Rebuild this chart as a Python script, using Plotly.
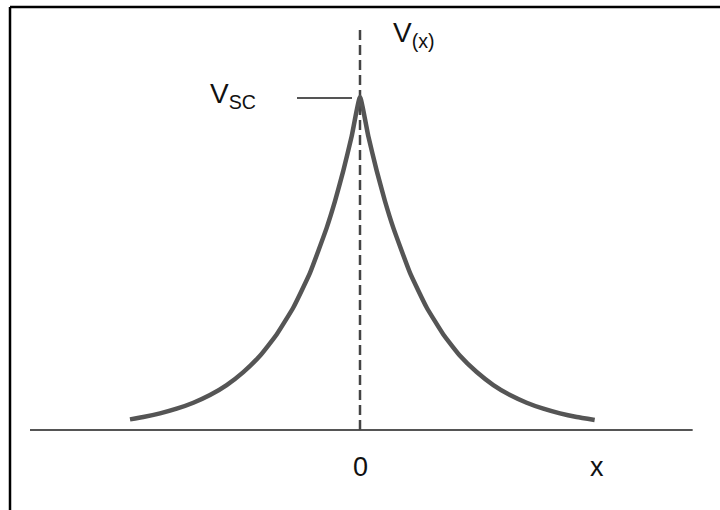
import plotly.graph_objects as go

# Potential profile V(x) around x=0 (V normalised to V_SC = 1, x in decay lengths)
x_pos = [-3.45, -3.25, -3.0, -2.75, -2.5, -2.25, -2.0, -1.75, -1.5, -1.25, -1.0,
         -0.75, -0.5, -0.375, -0.25, -0.125, 0.0, 0.125, 0.25, 0.375, 0.5, 0.75, 1.0,
         1.25, 1.5, 1.75, 2.0, 2.25, 2.5, 2.75, 3.0, 3.25, 3.52]
v_vals = [0.032, 0.039, 0.050, 0.064, 0.082, 0.105, 0.135, 0.174, 0.223, 0.287, 0.368,
          0.472, 0.607, 0.687, 0.779, 0.882, 1.000, 0.882, 0.779, 0.687, 0.607, 0.472, 0.368,
          0.287, 0.223, 0.174, 0.135, 0.105, 0.082, 0.064, 0.050, 0.039, 0.030]

baseline_x = [-4.95, 4.99]
baseline_v = [0.0, 0.0]
axis_x = [0.0, 0.0]
axis_v = [0.0, 1.207]
vsc_x = [-0.945, -0.12]
vsc_v = [0.997, 0.997]

tick_labels = ["0", "x"]
tick_x = [0.0, 3.56]

FONT = "Liberation Sans, Arial, sans-serif"

fig = go.Figure()
fig.add_trace(go.Scatter(x=baseline_x, y=baseline_v, mode="lines",
                         line=dict(color="#555555", width=2), hoverinfo="skip"))
fig.add_trace(go.Scatter(x=axis_x, y=axis_v, mode="lines",
                         line=dict(color="#444444", width=2.5, dash="10px,5px"), hoverinfo="skip"))
fig.add_trace(go.Scatter(x=vsc_x, y=vsc_v, mode="lines",
                         line=dict(color="#555555", width=2), hoverinfo="skip"))
fig.add_trace(go.Scatter(x=x_pos, y=v_vals, mode="lines", line_shape="spline",
                         line=dict(color="#555555", width=4.5, smoothing=0.4), hoverinfo="skip"))

for t, xv in zip(tick_labels, tick_x):
    fig.add_annotation(x=xv, y=-0.111, text=t, showarrow=False,
                       font=dict(family=FONT, size=27, color="#111111"),
                       xanchor="center", yanchor="middle")

fig.add_annotation(x=0.47, y=1.188, text="V<sub>(x)</sub>", showarrow=False,
                   font=dict(family=FONT, size=28, color="#111111"),
                   xanchor="left", yanchor="middle")
fig.add_annotation(x=-2.285, y=1.006, text="V<sub>SC</sub>", showarrow=False,
                   font=dict(family=FONT, size=28, color="#111111"),
                   xanchor="left", yanchor="middle")

# frame lines (top and left)
fig.add_shape(type="line", xref="paper", yref="paper", x0=10/720, x1=1.0,
              y0=1 - 7/510, y1=1 - 7/510, line=dict(color="black", width=2.5))
fig.add_shape(type="line", xref="paper", yref="paper", x0=10/720, x1=10/720,
              y0=0, y1=1 - 7/510, line=dict(color="black", width=2.5))

fig.update_layout(
    width=720, height=510,
    margin=dict(l=0, r=0, t=0, b=0),
    paper_bgcolor="white", plot_bgcolor="white",
    showlegend=False,
    xaxis=dict(range=[-5.4, 5.4], visible=False),
    yaxis=dict(range=[-0.2402, 1.2913], visible=False),
)

fig.write_html("out.html", config={"displayModeBar": False},
               post_script="document.body.style.margin='0';document.body.style.overflow='hidden';")
